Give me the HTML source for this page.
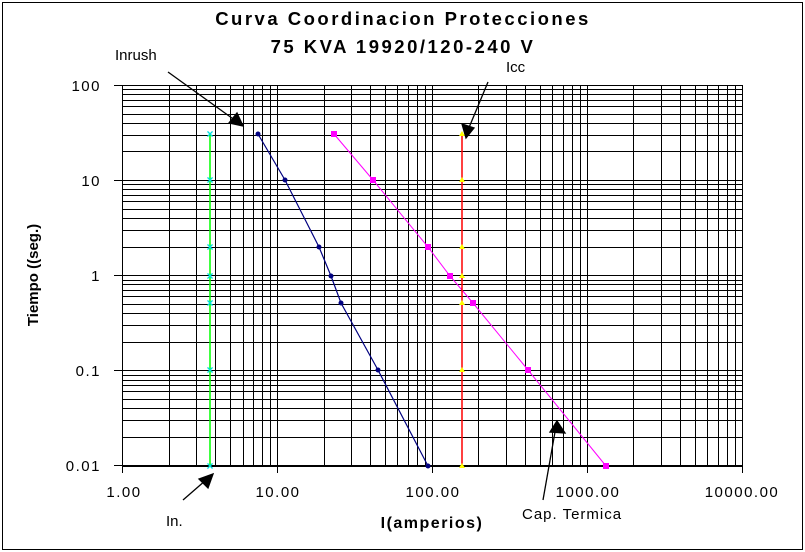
<!DOCTYPE html>
<html><head><meta charset="utf-8"><style>
html,body{margin:0;padding:0;background:#fff}
svg{display:block}
text{font-family:"Liberation Sans",sans-serif}
</style></head><body>
<svg id="s" width="805" height="552" xmlns="http://www.w3.org/2000/svg">
<rect x="2.5" y="2.5" width="800" height="547" fill="none" stroke="#000" stroke-width="1"/>
<g id="grid" stroke="#000" stroke-width="1" shape-rendering="crispEdges"></g>
<text x="403" y="25" text-anchor="middle" font-size="18.5" font-weight="bold" letter-spacing="2.5">Curva Coordinacion Protecciones</text>
<text x="403" y="53" text-anchor="middle" font-size="18.5" font-weight="bold" letter-spacing="2.5">75 KVA 19920/120-240 V</text>
<g font-size="15" text-anchor="end" letter-spacing="1.5">
<text x="101" y="91">100</text><text x="101" y="186">10</text><text x="101" y="281">1</text><text x="101" y="376">0.1</text><text x="101" y="471">0.01</text>
</g>
<g font-size="15" text-anchor="middle" letter-spacing="1.5">
<text x="124" y="497">1.00</text><text x="278" y="497">10.00</text><text x="433" y="497">100.00</text><text x="588" y="497">1000.00</text><text x="742" y="497">10000.00</text>
</g>
<text x="432" y="528" text-anchor="middle" font-size="16" font-weight="bold" letter-spacing="1.5">I(amperios)</text>
<text transform="translate(38,275) rotate(-90)" text-anchor="middle" font-size="15" font-weight="bold">Tiempo ((seg.)</text>
<text x="115" y="60" font-size="15">Inrush</text>
<text x="506" y="72" font-size="15">Icc</text>
<text x="166" y="526" font-size="15">In.</text>
<text x="522" y="519" font-size="15" letter-spacing="1">Cap. Termica</text>
<g id="series"></g>
<g stroke="#000" stroke-width="1.3" fill="#000">
<line x1="168" y1="72" x2="236" y2="121"/><polygon points="243,126 229,123 237,113"/>
<line x1="488" y1="82" x2="468" y2="130"/><polygon points="466,138 462,124 474,128"/>
<line x1="183" y1="500" x2="206" y2="480"/><polygon points="213,474 208,488 199,479"/>
<line x1="543" y1="500" x2="555" y2="432"/><polygon points="557,421 565,433 550,432"/>
</g>
</svg>
<script>
var g=document.getElementById('grid'),ns='http://www.w3.org/2000/svg';
var x0=122,dx=154.9,y0=85,dy=95.1;
function L(a,b,c,d){var l=document.createElementNS(ns,'line');l.setAttribute('x1',a);l.setAttribute('y1',b);l.setAttribute('x2',c);l.setAttribute('y2',d);g.appendChild(l);}
for(var d=0;d<4;d++)for(var k=1;k<10;k++){var f=Math.log10(k);
 var x=Math.round(x0+(d+f)*dx)+0.5;L(x,y0,x,466);
 var y=Math.round(y0+(d+1-f)*dy)+0.5;L(x0,y,742,y);}
L(742.5,85,742.5,472);L(122,85.5,742,85.5);L(x0,466.5,742,466.5);
[0,1,2,3,4].forEach(function(i){var y=Math.round(y0+i*dy)+0.5;L(114,y,122,y);var x=Math.round(x0+i*dx)+0.5;L(x,466,x,473);});
var s=document.getElementById('series');
function pl(pts,col,w){var p=document.createElementNS(ns,'polyline');p.setAttribute('points',pts.map(function(q){return q.join(',')}).join(' '));p.setAttribute('fill','none');p.setAttribute('stroke',col);p.setAttribute('stroke-width',w);s.appendChild(p);}
var ys=[134,180,247,276,303,370,466];
var gr=ys.map(function(y){return [210,y]});pl(gr,'#00ff00',1.5);
gr.forEach(function(q){var t=document.createElementNS(ns,'text');t.setAttribute('x',q[0]);t.setAttribute('y',q[1]+4);t.setAttribute('fill','#00e0e0');t.setAttribute('font-size','12');t.setAttribute('font-weight','bold');t.setAttribute('text-anchor','middle');t.textContent='×';s.appendChild(t);});
var nv=[[258,134],[285,180],[319,247],[331,276],[341,303],[378,370],[428,466]];pl(nv,'#000080',1.2);
nv.forEach(function(q){var c=document.createElementNS(ns,'circle');c.setAttribute('cx',q[0]);c.setAttribute('cy',q[1]);c.setAttribute('r',2.5);c.setAttribute('fill','#000080');s.appendChild(c);});
var mg=[[334,134],[373,180],[428,247],[450,276],[473,303],[528,370],[606,466]];pl(mg,'#ff00ff',1);
mg.forEach(function(q){var r=document.createElementNS(ns,'rect');r.setAttribute('x',q[0]-3);r.setAttribute('y',q[1]-3);r.setAttribute('width',6);r.setAttribute('height',6);r.setAttribute('fill','#ff00ff');s.appendChild(r);});
var rd=ys.map(function(y){return [462,y]});pl(rd,'#ff0000',1.5);
rd.forEach(function(q){var p=document.createElementNS(ns,'polygon');p.setAttribute('points',(q[0]-3)+','+(q[1]+2)+' '+(q[0]+3)+','+(q[1]+2)+' '+q[0]+','+(q[1]-3));p.setAttribute('fill','#ffff00');s.appendChild(p);});
</script>
</body></html>
